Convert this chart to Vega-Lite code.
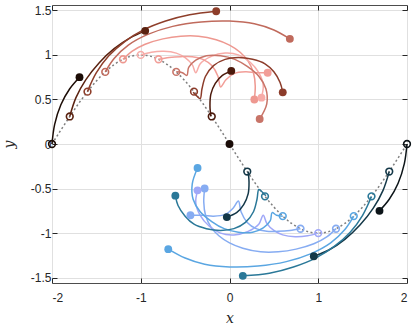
{
  "$schema": "https://vega.github.io/schema/vega-lite/v6.json",
  "width": 355,
  "height": 278,
  "autosize": {"type": "none"},
  "padding": {"left": 52, "top": 5, "right": 8, "bottom": 48},
  "background": "white",
  "config": {
    "view": {"stroke": "#4d4d4d", "strokeWidth": 1},
    "axis": {"labelFont": "Liberation Sans", "labelFontSize": 12, "labelColor": "#262626", "tickColor": "#262626", "domain": false, "gridColor": "#e0e0e0", "titleFont": "DejaVu Serif", "titleFontStyle": "italic", "titleFontWeight": "normal", "titleFontSize": 14, "titleColor": "#262626"}
  },
  "datasets": {
    "curve": [
      {"x": -2, "y": 0}, {"x": -1.9, "y": 0.1564}, {"x": -1.8, "y": 0.309}, {"x": -1.7, "y": 0.454}, {"x": -1.6, "y": 0.5878},
      {"x": -1.5, "y": 0.7071}, {"x": -1.4, "y": 0.809}, {"x": -1.3, "y": 0.891}, {"x": -1.2, "y": 0.9511}, {"x": -1.1, "y": 0.9877},
      {"x": -1, "y": 1}, {"x": -0.9, "y": 0.9877}, {"x": -0.8, "y": 0.9511}, {"x": -0.7, "y": 0.891}, {"x": -0.6, "y": 0.809},
      {"x": -0.5, "y": 0.7071}, {"x": -0.4, "y": 0.5878}, {"x": -0.3, "y": 0.454}, {"x": -0.2, "y": 0.309}, {"x": -0.1, "y": 0.1564},
      {"x": 0, "y": 0}, {"x": 0.1, "y": -0.1564}, {"x": 0.2, "y": -0.309}, {"x": 0.3, "y": -0.454}, {"x": 0.4, "y": -0.5878},
      {"x": 0.5, "y": -0.7071}, {"x": 0.6, "y": -0.809}, {"x": 0.7, "y": -0.891}, {"x": 0.8, "y": -0.9511}, {"x": 0.9, "y": -0.9877},
      {"x": 1, "y": -1}, {"x": 1.1, "y": -0.9877}, {"x": 1.2, "y": -0.9511}, {"x": 1.3, "y": -0.891}, {"x": 1.4, "y": -0.809},
      {"x": 1.5, "y": -0.7071}, {"x": 1.6, "y": -0.5878}, {"x": 1.7, "y": -0.454}, {"x": 1.8, "y": -0.309}, {"x": 1.9, "y": -0.1564},
      {"x": 2, "y": 0}
    ],
    "traj": [
      {"id": "u0", "i": 0, "x": -2, "y": 0}, {"id": "u0", "i": 1, "x": -1.97, "y": 0.22}, {"id": "u0", "i": 2, "x": -1.9, "y": 0.44}, {"id": "u0", "i": 3, "x": -1.8, "y": 0.62}, {"id": "u0", "i": 4, "x": -1.69, "y": 0.75},
      {"id": "u1", "i": 0, "x": -1.8, "y": 0.31}, {"id": "u1", "i": 1, "x": -1.73, "y": 0.52}, {"id": "u1", "i": 2, "x": -1.62, "y": 0.72}, {"id": "u1", "i": 3, "x": -1.47, "y": 0.91}, {"id": "u1", "i": 4, "x": -1.3, "y": 1.07}, {"id": "u1", "i": 5, "x": -1.12, "y": 1.19}, {"id": "u1", "i": 6, "x": -0.95, "y": 1.27},
      {"id": "u2", "i": 0, "x": -1.6, "y": 0.59}, {"id": "u2", "i": 1, "x": -1.5, "y": 0.8}, {"id": "u2", "i": 2, "x": -1.36, "y": 0.99}, {"id": "u2", "i": 3, "x": -1.18, "y": 1.15}, {"id": "u2", "i": 4, "x": -0.97, "y": 1.28}, {"id": "u2", "i": 5, "x": -0.72, "y": 1.38}, {"id": "u2", "i": 6, "x": -0.45, "y": 1.45}, {"id": "u2", "i": 7, "x": -0.15, "y": 1.49},
      {"id": "u3", "i": 0, "x": -1.4, "y": 0.81}, {"id": "u3", "i": 1, "x": -1.3, "y": 0.96}, {"id": "u3", "i": 2, "x": -1.14, "y": 1.11}, {"id": "u3", "i": 3, "x": -0.92, "y": 1.23}, {"id": "u3", "i": 4, "x": -0.64, "y": 1.32}, {"id": "u3", "i": 5, "x": -0.32, "y": 1.37}, {"id": "u3", "i": 6, "x": 0, "y": 1.38}, {"id": "u3", "i": 7, "x": 0.28, "y": 1.35}, {"id": "u3", "i": 8, "x": 0.5, "y": 1.28}, {"id": "u3", "i": 9, "x": 0.68, "y": 1.18},
      {"id": "u4", "i": 0, "x": -1.2, "y": 0.95}, {"id": "u4", "i": 1, "x": -1.1, "y": 1.04}, {"id": "u4", "i": 2, "x": -0.95, "y": 1.12}, {"id": "u4", "i": 3, "x": -0.75, "y": 1.18}, {"id": "u4", "i": 4, "x": -0.55, "y": 1.21}, {"id": "u4", "i": 5, "x": -0.35, "y": 1.21}, {"id": "u4", "i": 6, "x": -0.15, "y": 1.17}, {"id": "u4", "i": 7, "x": 0, "y": 1.11}, {"id": "u4", "i": 8, "x": 0.12, "y": 1.03}, {"id": "u4", "i": 9, "x": 0.21, "y": 0.93}, {"id": "u4", "i": 10, "x": 0.27, "y": 0.8}, {"id": "u4", "i": 11, "x": 0.29, "y": 0.65}, {"id": "u4", "i": 12, "x": 0.28, "y": 0.5},
      {"id": "u5", "i": 0, "x": -1, "y": 1}, {"id": "u5", "i": 1, "x": -0.88, "y": 1.03}, {"id": "u5", "i": 2, "x": -0.74, "y": 1.04}, {"id": "u5", "i": 3, "x": -0.6, "y": 1.02}, {"id": "u5", "i": 4, "x": -0.5, "y": 0.97}, {"id": "u5", "i": 5, "x": -0.42, "y": 0.89}, {"id": "u5", "i": 6, "x": -0.38, "y": 0.8}, {"id": "u5", "i": 7, "x": -0.33, "y": 0.9}, {"id": "u5", "i": 8, "x": -0.21, "y": 0.98}, {"id": "u5", "i": 9, "x": -0.05, "y": 1.02}, {"id": "u5", "i": 10, "x": 0.1, "y": 1}, {"id": "u5", "i": 11, "x": 0.23, "y": 0.92}, {"id": "u5", "i": 12, "x": 0.33, "y": 0.8}, {"id": "u5", "i": 13, "x": 0.38, "y": 0.66}, {"id": "u5", "i": 14, "x": 0.36, "y": 0.52},
      {"id": "u6", "i": 0, "x": -0.8, "y": 0.95}, {"id": "u6", "i": 1, "x": -0.68, "y": 0.97}, {"id": "u6", "i": 2, "x": -0.55, "y": 0.98}, {"id": "u6", "i": 3, "x": -0.42, "y": 0.98}, {"id": "u6", "i": 4, "x": -0.3, "y": 0.95}, {"id": "u6", "i": 5, "x": -0.2, "y": 0.88}, {"id": "u6", "i": 6, "x": -0.13, "y": 0.76}, {"id": "u6", "i": 7, "x": -0.1, "y": 0.64}, {"id": "u6", "i": 8, "x": -0.04, "y": 0.72}, {"id": "u6", "i": 9, "x": 0.05, "y": 0.79}, {"id": "u6", "i": 10, "x": 0.18, "y": 0.81}, {"id": "u6", "i": 11, "x": 0.3, "y": 0.8}, {"id": "u6", "i": 12, "x": 0.43, "y": 0.8},
      {"id": "u7", "i": 0, "x": -0.6, "y": 0.81}, {"id": "u7", "i": 1, "x": -0.53, "y": 0.8}, {"id": "u7", "i": 2, "x": -0.48, "y": 0.77}, {"id": "u7", "i": 3, "x": -0.46, "y": 0.86}, {"id": "u7", "i": 4, "x": -0.38, "y": 0.94}, {"id": "u7", "i": 5, "x": -0.26, "y": 0.99}, {"id": "u7", "i": 6, "x": -0.1, "y": 0.99}, {"id": "u7", "i": 7, "x": 0.06, "y": 0.95}, {"id": "u7", "i": 8, "x": 0.2, "y": 0.87}, {"id": "u7", "i": 9, "x": 0.33, "y": 0.76}, {"id": "u7", "i": 10, "x": 0.41, "y": 0.62}, {"id": "u7", "i": 11, "x": 0.42, "y": 0.45}, {"id": "u7", "i": 12, "x": 0.34, "y": 0.28},
      {"id": "u8", "i": 0, "x": -0.41, "y": 0.58}, {"id": "u8", "i": 1, "x": -0.36, "y": 0.53}, {"id": "u8", "i": 2, "x": -0.33, "y": 0.51}, {"id": "u8", "i": 3, "x": -0.31, "y": 0.62}, {"id": "u8", "i": 4, "x": -0.27, "y": 0.76}, {"id": "u8", "i": 5, "x": -0.18, "y": 0.88}, {"id": "u8", "i": 6, "x": -0.05, "y": 0.95}, {"id": "u8", "i": 7, "x": 0.1, "y": 0.97}, {"id": "u8", "i": 8, "x": 0.26, "y": 0.95}, {"id": "u8", "i": 9, "x": 0.4, "y": 0.9}, {"id": "u8", "i": 10, "x": 0.5, "y": 0.81}, {"id": "u8", "i": 11, "x": 0.57, "y": 0.69}, {"id": "u8", "i": 12, "x": 0.6, "y": 0.58},
      {"id": "u9", "i": 0, "x": -0.21, "y": 0.31}, {"id": "u9", "i": 1, "x": -0.22, "y": 0.43}, {"id": "u9", "i": 2, "x": -0.21, "y": 0.56}, {"id": "u9", "i": 3, "x": -0.16, "y": 0.68}, {"id": "u9", "i": 4, "x": -0.08, "y": 0.77}, {"id": "u9", "i": 5, "x": 0.02, "y": 0.82},
      {"id": "l0", "i": 0, "x": 2, "y": 0}, {"id": "l0", "i": 1, "x": 1.97, "y": -0.22}, {"id": "l0", "i": 2, "x": 1.9, "y": -0.44}, {"id": "l0", "i": 3, "x": 1.8, "y": -0.62}, {"id": "l0", "i": 4, "x": 1.69, "y": -0.75},
      {"id": "l1", "i": 0, "x": 1.8, "y": -0.31}, {"id": "l1", "i": 1, "x": 1.73, "y": -0.52}, {"id": "l1", "i": 2, "x": 1.62, "y": -0.72}, {"id": "l1", "i": 3, "x": 1.47, "y": -0.91}, {"id": "l1", "i": 4, "x": 1.3, "y": -1.07}, {"id": "l1", "i": 5, "x": 1.12, "y": -1.19}, {"id": "l1", "i": 6, "x": 0.95, "y": -1.26},
      {"id": "l2", "i": 0, "x": 1.6, "y": -0.59}, {"id": "l2", "i": 1, "x": 1.5, "y": -0.8}, {"id": "l2", "i": 2, "x": 1.36, "y": -0.99}, {"id": "l2", "i": 3, "x": 1.18, "y": -1.15}, {"id": "l2", "i": 4, "x": 0.97, "y": -1.28}, {"id": "l2", "i": 5, "x": 0.72, "y": -1.38}, {"id": "l2", "i": 6, "x": 0.45, "y": -1.45}, {"id": "l2", "i": 7, "x": 0.15, "y": -1.48},
      {"id": "l3", "i": 0, "x": 1.4, "y": -0.81}, {"id": "l3", "i": 1, "x": 1.3, "y": -0.96}, {"id": "l3", "i": 2, "x": 1.14, "y": -1.11}, {"id": "l3", "i": 3, "x": 0.92, "y": -1.23}, {"id": "l3", "i": 4, "x": 0.64, "y": -1.32}, {"id": "l3", "i": 5, "x": 0.32, "y": -1.37}, {"id": "l3", "i": 6, "x": 0, "y": -1.38}, {"id": "l3", "i": 7, "x": -0.28, "y": -1.35}, {"id": "l3", "i": 8, "x": -0.5, "y": -1.28}, {"id": "l3", "i": 9, "x": -0.69, "y": -1.18},
      {"id": "l4", "i": 0, "x": 1.2, "y": -0.95}, {"id": "l4", "i": 1, "x": 1.1, "y": -1.04}, {"id": "l4", "i": 2, "x": 0.95, "y": -1.12}, {"id": "l4", "i": 3, "x": 0.75, "y": -1.18}, {"id": "l4", "i": 4, "x": 0.55, "y": -1.21}, {"id": "l4", "i": 5, "x": 0.35, "y": -1.21}, {"id": "l4", "i": 6, "x": 0.15, "y": -1.17}, {"id": "l4", "i": 7, "x": 0, "y": -1.11}, {"id": "l4", "i": 8, "x": -0.12, "y": -1.03}, {"id": "l4", "i": 9, "x": -0.21, "y": -0.93}, {"id": "l4", "i": 10, "x": -0.27, "y": -0.8}, {"id": "l4", "i": 11, "x": -0.29, "y": -0.65}, {"id": "l4", "i": 12, "x": -0.28, "y": -0.5},
      {"id": "l5", "i": 0, "x": 1, "y": -1}, {"id": "l5", "i": 1, "x": 0.88, "y": -1.03}, {"id": "l5", "i": 2, "x": 0.74, "y": -1.04}, {"id": "l5", "i": 3, "x": 0.6, "y": -1.02}, {"id": "l5", "i": 4, "x": 0.5, "y": -0.97}, {"id": "l5", "i": 5, "x": 0.42, "y": -0.89}, {"id": "l5", "i": 6, "x": 0.38, "y": -0.8}, {"id": "l5", "i": 7, "x": 0.33, "y": -0.9}, {"id": "l5", "i": 8, "x": 0.21, "y": -0.98}, {"id": "l5", "i": 9, "x": 0.05, "y": -1.02}, {"id": "l5", "i": 10, "x": -0.1, "y": -1}, {"id": "l5", "i": 11, "x": -0.23, "y": -0.92}, {"id": "l5", "i": 12, "x": -0.33, "y": -0.8}, {"id": "l5", "i": 13, "x": -0.38, "y": -0.66}, {"id": "l5", "i": 14, "x": -0.36, "y": -0.52},
      {"id": "l6", "i": 0, "x": 0.8, "y": -0.95}, {"id": "l6", "i": 1, "x": 0.68, "y": -0.97}, {"id": "l6", "i": 2, "x": 0.55, "y": -0.98}, {"id": "l6", "i": 3, "x": 0.42, "y": -0.98}, {"id": "l6", "i": 4, "x": 0.3, "y": -0.95}, {"id": "l6", "i": 5, "x": 0.2, "y": -0.88}, {"id": "l6", "i": 6, "x": 0.13, "y": -0.76}, {"id": "l6", "i": 7, "x": 0.1, "y": -0.64}, {"id": "l6", "i": 8, "x": 0.04, "y": -0.72}, {"id": "l6", "i": 9, "x": -0.05, "y": -0.79}, {"id": "l6", "i": 10, "x": -0.18, "y": -0.81}, {"id": "l6", "i": 11, "x": -0.3, "y": -0.8}, {"id": "l6", "i": 12, "x": -0.44, "y": -0.8},
      {"id": "l7", "i": 0, "x": 0.6, "y": -0.81}, {"id": "l7", "i": 1, "x": 0.53, "y": -0.8}, {"id": "l7", "i": 2, "x": 0.48, "y": -0.77}, {"id": "l7", "i": 3, "x": 0.46, "y": -0.86}, {"id": "l7", "i": 4, "x": 0.38, "y": -0.94}, {"id": "l7", "i": 5, "x": 0.26, "y": -0.99}, {"id": "l7", "i": 6, "x": 0.1, "y": -0.99}, {"id": "l7", "i": 7, "x": -0.06, "y": -0.95}, {"id": "l7", "i": 8, "x": -0.2, "y": -0.87}, {"id": "l7", "i": 9, "x": -0.33, "y": -0.76}, {"id": "l7", "i": 10, "x": -0.41, "y": -0.62}, {"id": "l7", "i": 11, "x": -0.42, "y": -0.45}, {"id": "l7", "i": 12, "x": -0.36, "y": -0.27},
      {"id": "l8", "i": 0, "x": 0.41, "y": -0.58}, {"id": "l8", "i": 1, "x": 0.36, "y": -0.53}, {"id": "l8", "i": 2, "x": 0.33, "y": -0.51}, {"id": "l8", "i": 3, "x": 0.31, "y": -0.62}, {"id": "l8", "i": 4, "x": 0.27, "y": -0.76}, {"id": "l8", "i": 5, "x": 0.18, "y": -0.88}, {"id": "l8", "i": 6, "x": 0.05, "y": -0.95}, {"id": "l8", "i": 7, "x": -0.1, "y": -0.97}, {"id": "l8", "i": 8, "x": -0.26, "y": -0.95}, {"id": "l8", "i": 9, "x": -0.4, "y": -0.9}, {"id": "l8", "i": 10, "x": -0.5, "y": -0.81}, {"id": "l8", "i": 11, "x": -0.58, "y": -0.69}, {"id": "l8", "i": 12, "x": -0.61, "y": -0.58},
      {"id": "l9", "i": 0, "x": 0.21, "y": -0.31}, {"id": "l9", "i": 1, "x": 0.22, "y": -0.43}, {"id": "l9", "i": 2, "x": 0.21, "y": -0.56}, {"id": "l9", "i": 3, "x": 0.16, "y": -0.68}, {"id": "l9", "i": 4, "x": 0.08, "y": -0.77}, {"id": "l9", "i": 5, "x": -0.03, "y": -0.82}
    ],
    "starts": [
      {"id": "u0", "x": -2, "y": 0}, {"id": "u1", "x": -1.8, "y": 0.309}, {"id": "u2", "x": -1.6, "y": 0.5878}, {"id": "u3", "x": -1.4, "y": 0.809}, {"id": "u4", "x": -1.2, "y": 0.9511},
      {"id": "u5", "x": -1, "y": 1}, {"id": "u6", "x": -0.8, "y": 0.9511}, {"id": "u7", "x": -0.6, "y": 0.809}, {"id": "u8", "x": -0.4, "y": 0.5878}, {"id": "u9", "x": -0.2, "y": 0.309},
      {"id": "l9", "x": 0.2, "y": -0.309}, {"id": "l8", "x": 0.4, "y": -0.5878}, {"id": "l7", "x": 0.6, "y": -0.809}, {"id": "l6", "x": 0.8, "y": -0.9511}, {"id": "l5", "x": 1, "y": -1},
      {"id": "l4", "x": 1.2, "y": -0.9511}, {"id": "l3", "x": 1.4, "y": -0.809}, {"id": "l2", "x": 1.6, "y": -0.5878}, {"id": "l1", "x": 1.8, "y": -0.309}, {"id": "l0", "x": 2, "y": 0}
    ],
    "ends": [
      {"id": "u0", "x": -1.69, "y": 0.75}, {"id": "u1", "x": -0.95, "y": 1.27}, {"id": "u2", "x": -0.15, "y": 1.49}, {"id": "u3", "x": 0.68, "y": 1.18}, {"id": "u4", "x": 0.28, "y": 0.5},
      {"id": "u5", "x": 0.36, "y": 0.52}, {"id": "u6", "x": 0.43, "y": 0.8}, {"id": "u7", "x": 0.34, "y": 0.28}, {"id": "u8", "x": 0.6, "y": 0.58}, {"id": "u9", "x": 0.02, "y": 0.82},
      {"id": "l0", "x": 1.69, "y": -0.75}, {"id": "l1", "x": 0.95, "y": -1.26}, {"id": "l2", "x": 0.15, "y": -1.48}, {"id": "l3", "x": -0.69, "y": -1.18}, {"id": "l4", "x": -0.28, "y": -0.5},
      {"id": "l5", "x": -0.36, "y": -0.52}, {"id": "l6", "x": -0.44, "y": -0.8}, {"id": "l7", "x": -0.36, "y": -0.27}, {"id": "l8", "x": -0.61, "y": -0.58}, {"id": "l9", "x": -0.03, "y": -0.82},
      {"id": "c", "x": 0, "y": 0}
    ]
  },
  "resolve": {"axis": {"x": "independent", "y": "independent"}},
  "layer": [
    {
      "data": {"name": "curve"},
      "mark": {"type": "line", "color": "#7f7f7f", "strokeDash": [2, 2.5], "strokeWidth": 1.5, "interpolate": "natural", "clip": false},
      "encoding": {
        "x": {"field": "x", "type": "quantitative", "scale": {"domain": [-2, 2], "nice": false, "zero": false},
          "axis": {"values": [-2, -1, 0, 1, 2], "grid": true, "tickSize": -5, "labelPadding": 14, "labelExpr": "'' + datum.value", "title": "x", "titlePadding": 8}},
        "y": {"field": "y", "type": "quantitative", "scale": {"domain": [-1.56, 1.56], "nice": false, "zero": false},
          "axis": {"values": [-1.5, -1, -0.5, 0, 0.5, 1, 1.5], "grid": true, "tickSize": -5, "labelPadding": 6, "labelExpr": "'' + datum.value", "title": "y", "titlePadding": 14}}
      }
    },
    {
      "data": {"name": "traj"},
      "mark": {"type": "line", "strokeWidth": 1.5, "interpolate": "catmull-rom", "clip": false},
      "encoding": {
        "x": {"field": "x", "type": "quantitative", "axis": {"orient": "top", "values": [-2, -1, 0, 1, 2], "grid": false, "labels": false, "tickSize": -5, "title": null}},
        "y": {"field": "y", "type": "quantitative", "axis": {"orient": "right", "values": [-1.5, -1, -0.5, 0, 0.5, 1, 1.5], "grid": false, "labels": false, "tickSize": -5, "title": null}},
        "detail": {"field": "id"},
        "order": {"field": "i", "type": "quantitative"},
        "color": {"field": "id", "type": "nominal", "legend": null,
          "scale": {
            "domain": ["u0", "u1", "u2", "u3", "u4", "u5", "u6", "u7", "u8", "u9", "l0", "l1", "l2", "l3", "l4", "l5", "l6", "l7", "l8", "l9", "c"],
            "range": ["#1c0c06", "#5a2210", "#8e3e2a", "#c06a5c", "#ee9890", "#f7aca8", "#f29e98", "#c87468", "#8c3c2a", "#4c1a0c", "#0c1418", "#143848", "#2a7898", "#5aa6e2", "#86acf2", "#a0a8f8", "#86acf2", "#5aa6e2", "#2a7898", "#143848", "#1a0c08"]
          }}
      }
    },
    {
      "data": {"name": "starts"},
      "mark": {"type": "point", "shape": "circle", "filled": false, "size": 45, "strokeWidth": 1.6, "opacity": 1, "clip": false},
      "encoding": {
        "x": {"field": "x", "type": "quantitative", "axis": null},
        "y": {"field": "y", "type": "quantitative", "axis": null},
        "color": {"field": "id", "type": "nominal", "legend": null}
      }
    },
    {
      "data": {"name": "ends"},
      "mark": {"type": "circle", "size": 62, "opacity": 1, "clip": false},
      "encoding": {
        "x": {"field": "x", "type": "quantitative", "axis": null},
        "y": {"field": "y", "type": "quantitative", "axis": null},
        "color": {"field": "id", "type": "nominal", "legend": null}
      }
    }
  ]
}
